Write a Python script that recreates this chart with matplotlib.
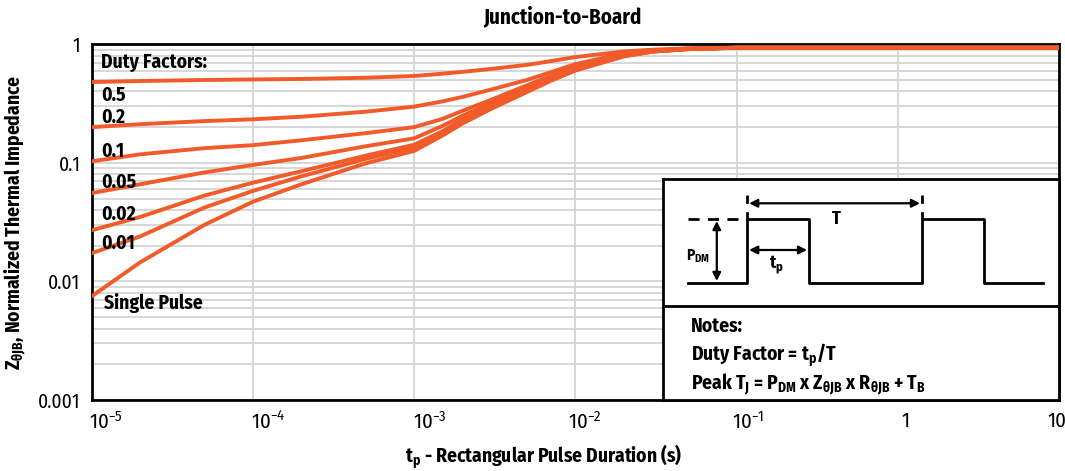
import matplotlib
matplotlib.use("Agg")
import matplotlib.pyplot as plt
from matplotlib import font_manager
from matplotlib.transforms import ScaledTranslation
import numpy as np

# the original uses a condensed sans, take the first one we have
have = {f.name for f in font_manager.fontManager.ttflist}
FONT = "DejaVu Sans"
for cand in ["Fira Sans Condensed", "PT Sans Narrow", "Open Sans Condensed", "Liberation Sans Narrow"]:
    if cand in have:
        FONT = cand
        break

plt.rcParams["font.family"] = [FONT, "DejaVu Sans"]
plt.rcParams["mathtext.fontset"] = "custom"
plt.rcParams["mathtext.rm"] = FONT
plt.rcParams["mathtext.it"] = FONT
plt.rcParams["mathtext.bf"] = FONT + ":bold"

ORANGE = "#F15A29"
GRID = "#D4D4D4"

# data
tp = [1e-5, 2e-5, 5e-5, 1e-4, 2e-4, 5e-4, 1e-3, 1.5e-3, 2e-3, 3e-3, 5e-3, 7e-3, 1e-2, 2e-2, 3e-2, 5e-2, 1e-1, 1, 10]
z_05 = [0.48, 0.49, 0.50, 0.505, 0.51, 0.522, 0.54, 0.565, 0.585, 0.62, 0.67, 0.72, 0.78, 0.87, 0.90, 0.925, 0.935, 0.935, 0.935]
z_02 = [0.20, 0.212, 0.225, 0.233, 0.245, 0.27, 0.298, 0.33, 0.36, 0.415, 0.50, 0.58, 0.68, 0.84, 0.885, 0.92, 0.935, 0.935, 0.935]
z_01 = [0.103, 0.118, 0.133, 0.141, 0.155, 0.178, 0.20, 0.235, 0.275, 0.34, 0.45, 0.54, 0.65, 0.82, 0.88, 0.915, 0.935, 0.935, 0.935]
z_005 = [0.0556, 0.066, 0.083, 0.096, 0.11, 0.138, 0.161, 0.205, 0.25, 0.32, 0.43, 0.52, 0.63, 0.81, 0.875, 0.915, 0.935, 0.935, 0.935]
z_002 = [0.027, 0.035, 0.053, 0.068, 0.085, 0.115, 0.142, 0.185, 0.235, 0.305, 0.415, 0.51, 0.62, 0.80, 0.87, 0.91, 0.935, 0.935, 0.935]
z_001 = [0.0173, 0.024, 0.042, 0.058, 0.077, 0.108, 0.134, 0.18, 0.225, 0.295, 0.405, 0.50, 0.61, 0.795, 0.868, 0.91, 0.935, 0.935, 0.935]
z_single = [0.0075, 0.0145, 0.03, 0.047, 0.066, 0.099, 0.126, 0.17, 0.215, 0.285, 0.395, 0.49, 0.60, 0.79, 0.865, 0.91, 0.935, 0.935, 0.935]

curve_labels = ["0.5", "0.2", "0.1", "0.05", "0.02", "0.01", "Single Pulse"]
label_y = [0.373, 0.244, 0.126, 0.069, 0.0366, 0.0209, 0.00653]
label_x = [1.15e-5] * 6 + [1.2e-5]

xticks = [1e-5, 1e-4, 1e-3, 1e-2, 1e-1, 1, 10]
xtick_labels = ["10$^{-5}$", "10$^{-4}$", "10$^{-3}$", "10$^{-2}$", "10$^{-1}$", "1", "10"]
yticks = [0.001, 0.01, 0.1, 1]
ytick_labels = ["0.001", "0.01", "0.1", "1"]

fig = plt.figure(figsize=(10.65, 4.71), dpi=100)
ax = fig.add_axes([0.0861, 0.1507, 0.9083, 0.7553])

for z in [z_05, z_02, z_01, z_005, z_002, z_001, z_single]:
    ax.plot(tp, z, color=ORANGE, lw=2.8, zorder=3)

ax.set_xscale("log")
ax.set_yscale("log")
ax.set_xlim(1e-5, 10)
ax.set_ylim(0.001, 1)

ax.set_xticks(xticks)
ax.set_xticklabels(xtick_labels)
ax.set_yticks(yticks)
ax.set_yticklabels(ytick_labels)
ax.xaxis.set_minor_locator(matplotlib.ticker.NullLocator())
ax.yaxis.set_minor_locator(matplotlib.ticker.LogLocator(base=10, subs=np.arange(2, 10)))
ax.yaxis.set_minor_formatter(matplotlib.ticker.NullFormatter())
ax.tick_params(which="both", length=0, labelsize=14)
ax.tick_params(axis="x", pad=8, labelsize=15)
ax.tick_params(axis="y", pad=8)

# the x labels sit a bit off their ticks in the original
shift_px = [-3, -2, -1, -7, -5, 8, -2]
align = ["left"] * 5 + ["center", "center"]
for lbl, dx, ha in zip(ax.get_xticklabels(), shift_px, align):
    lbl.set_horizontalalignment(ha)
    lbl.set_transform(lbl.get_transform() + ScaledTranslation(dx / 100, 0, fig.dpi_scale_trans))

ax.grid(which="major", axis="both", color=GRID, lw=1.3, zorder=0)
ax.grid(which="minor", axis="y", color=GRID, lw=1.3, zorder=0)
ax.set_axisbelow(True)
for s in ax.spines.values():
    s.set_linewidth(2)
    s.set_color("black")

bold = dict(fontweight="bold")
ax.set_title("Junction-to-Board", fontsize=15, pad=15, x=0.487, **bold)
ax.set_xlabel("t$_\\mathbf{p}$ - Rectangular Pulse Duration (s)", fontsize=14, **bold)
ax.xaxis.set_label_coords(0.4676, -0.118)
ax.set_ylabel("Z$_\\mathbf{θJB}$, Normalized Thermal Impedance", fontsize=14, **bold)
ax.yaxis.set_label_coords(-0.066, 0.5)

ax.text(1.15e-5, 0.706, "Duty Factors:", fontsize=14, va="center", ha="left", **bold)
for lx, ly, txt in zip(label_x, label_y, curve_labels):
    ax.text(lx, ly, txt, fontsize=14, va="center", ha="left", **bold)

# inset with pulse diagram and notes (local pixel-like coordinates)
ins = ax.inset_axes([0.591, 0.0, 0.409, 0.6205])
ins.set_xlim(663.3, 1059)
ins.set_ylim(400, 179.3)
ins.set_xticks([])
ins.set_yticks([])
ins.set_facecolor("white")
for s in ins.spines.values():
    s.set_linewidth(2)
ins.axhline(306, color="black", lw=2)

lo, hi = 282.7, 219.3
wx = [688.3, 747.3, 747.3, 809, 809, 921.7, 921.7, 984, 984, 1043.3]
wy = [lo, lo, hi, hi, lo, lo, hi, hi, lo, lo]
ins.plot(wx, wy, color="black", lw=2)
ins.plot([688.3, 745], [hi, hi], color="black", lw=2, dashes=(4, 3))
for vx in [747.3, 921.7]:
    ins.plot([vx, vx], [195, hi], color="black", lw=2, dashes=(3, 3))

arrow = dict(arrowstyle="<|-|>", color="black", lw=1.6, mutation_scale=12, shrinkA=0, shrinkB=0)
ins.annotate("", xy=(716.7, 221), xytext=(716.7, 281), arrowprops=arrow)
ins.annotate("", xy=(749, 203.3), xytext=(920, 203.3), arrowprops=arrow)
ins.annotate("", xy=(749, 250), xytext=(807, 250), arrowprops=arrow)

ins.text(686, 256, "P$_\\mathbf{DM}$", fontsize=11, va="center", ha="left", **bold)
ins.text(836.7, 219, "T", fontsize=13, va="center", ha="center", **bold)
ins.text(776.7, 265, "t$_\\mathbf{p}$", fontsize=13, va="center", ha="center", **bold)

ins.text(691, 326, "Notes:", fontsize=14, va="center", ha="left", **bold)
ins.text(691, 355, "Duty Factor = t$_\\mathbf{p}$/T", fontsize=14, va="center", ha="left", **bold)
ins.text(691, 384, "Peak T$_\\mathbf{J}$ = P$_\\mathbf{DM}$ x Z$_\\mathbf{θJB}$ x R$_\\mathbf{θJB}$ + T$_\\mathbf{B}$",
         fontsize=14, va="center", ha="left", **bold)

fig.savefig("out.png", dpi=100)
